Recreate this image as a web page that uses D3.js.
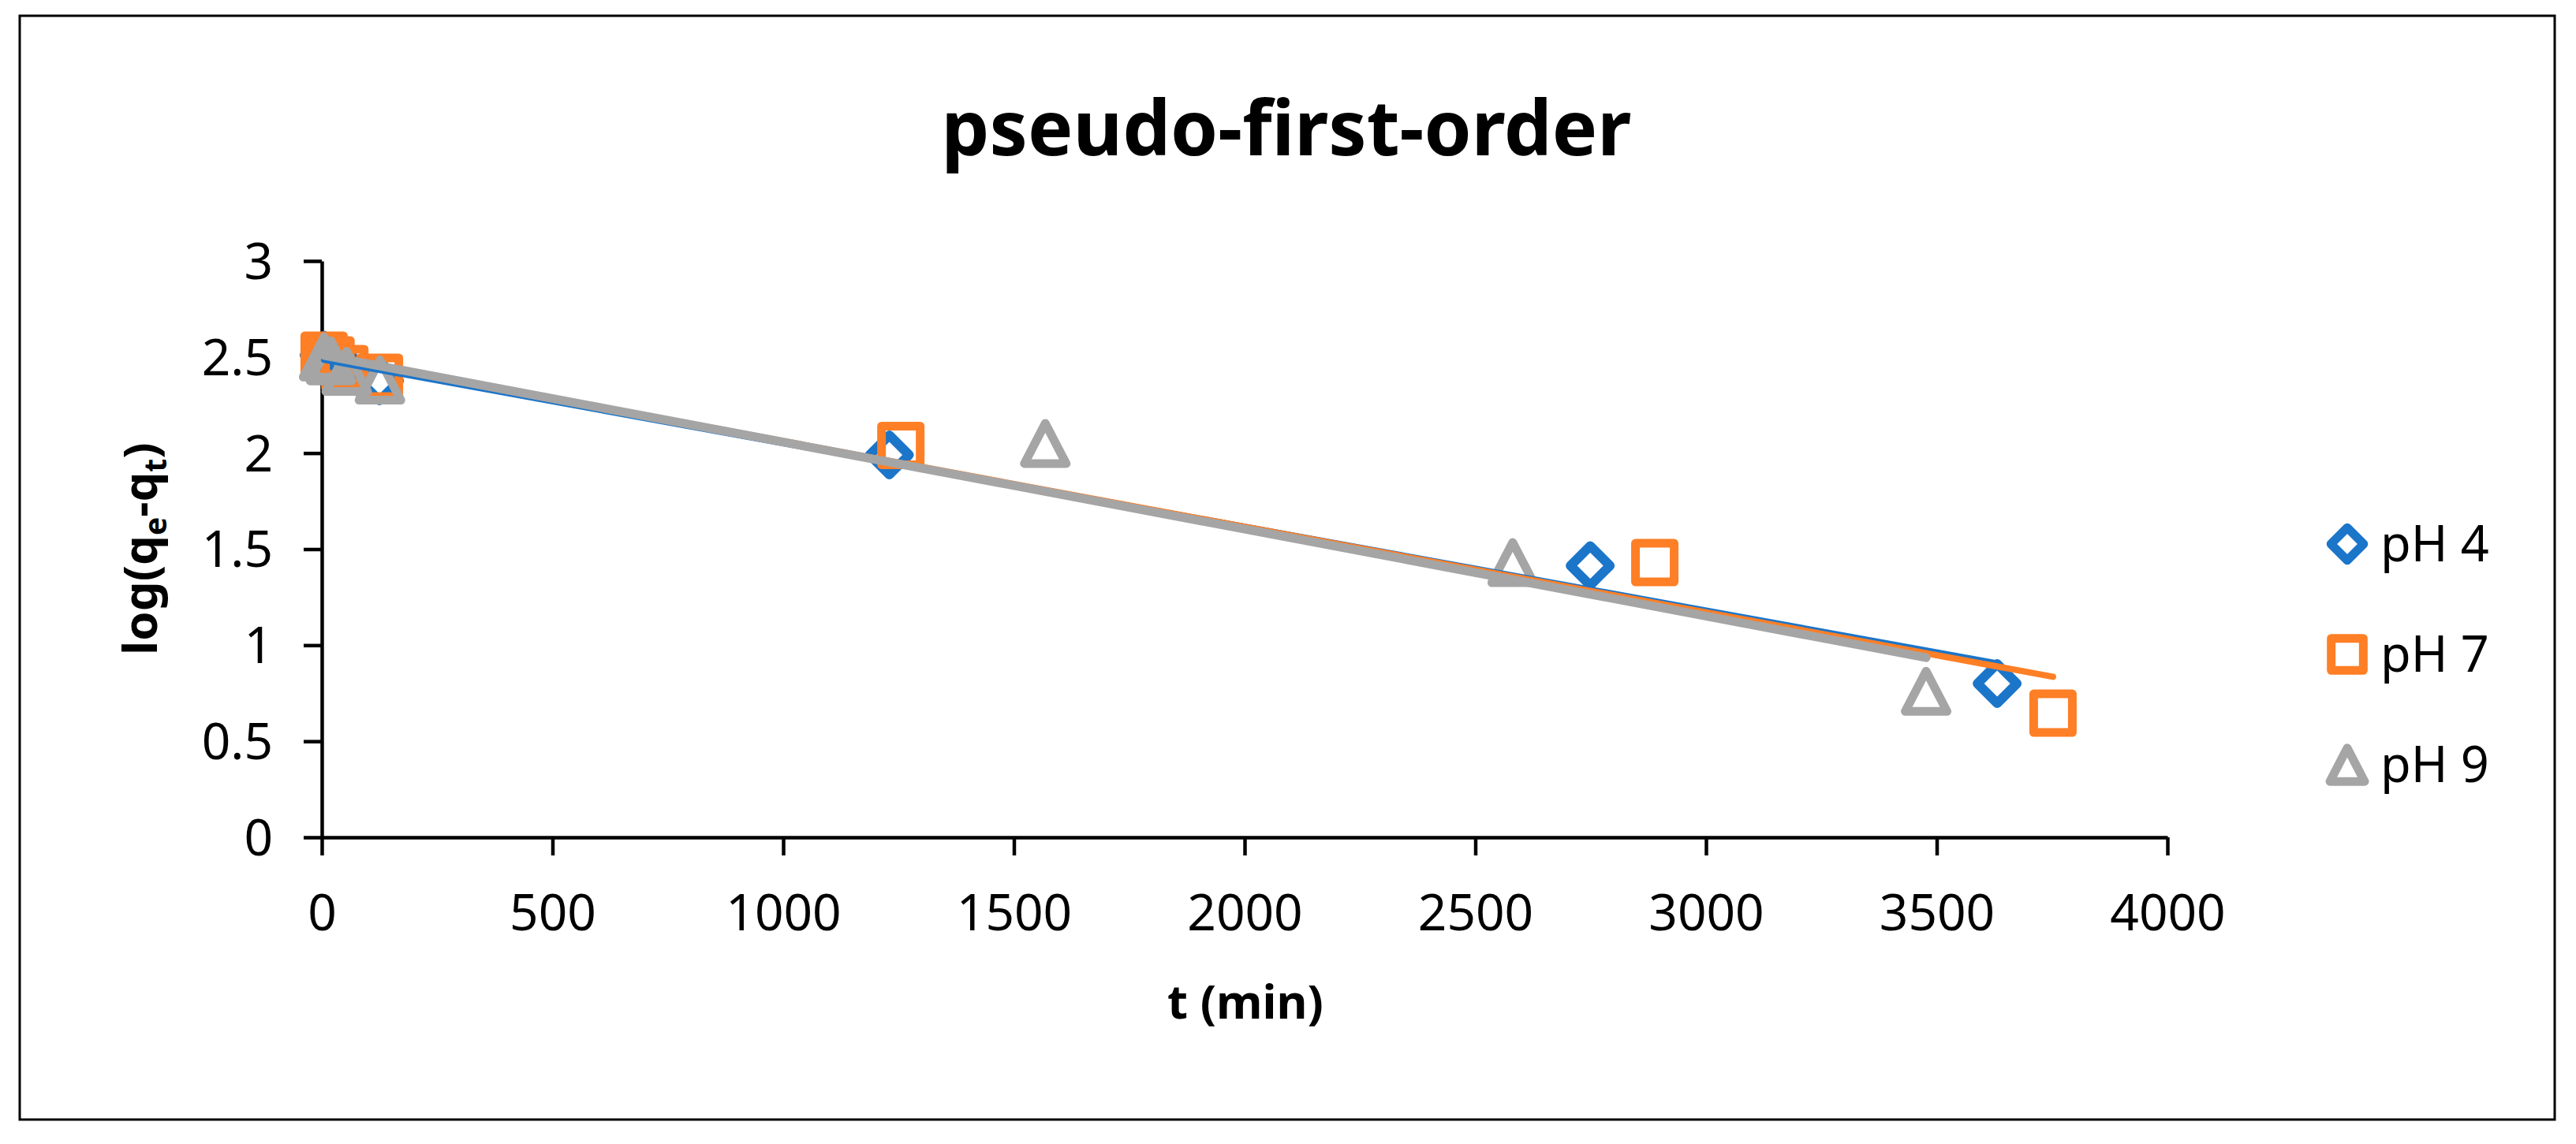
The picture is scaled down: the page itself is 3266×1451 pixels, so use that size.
<!DOCTYPE html>
<html>
<head>
<meta charset="utf-8">
<script src="https://cdn.jsdelivr.net/npm/d3@7"></script>
<style>
  html, body { margin: 0; padding: 0; background: #fff; }
  svg { display: block; }
  text { font-family: "Noto Sans", "Open Sans", sans-serif; }
</style>
</head>
<body>
<script>
// ---------- data ----------
const seriesNames = ["pH 4", "pH 7", "pH 9"];
const tPH4 = [5, 20, 50, 125, 1230, 2749, 3631];
const yPH4 = [2.51, 2.48, 2.44, 2.376, 1.99, 1.414, 0.80];
const tPH7 = [5, 20, 50, 125, 1255, 2889, 3752];
const yPH7 = [2.51, 2.485, 2.44, 2.395, 2.04, 1.43, 0.646];
const tPH9 = [5, 20, 54, 126, 1568, 2581, 3477];
const yPH9 = [2.50, 2.48, 2.425, 2.38, 2.05, 1.43, 0.76];
const xTicks = [0, 500, 1000, 1500, 2000, 2500, 3000, 3500, 4000];
const yTicks = [0, 0.5, 1, 1.5, 2, 2.5, 3];
const titleText = "pseudo-first-order";
const xTitle = "t (min)";

// ---------- styles ----------
const colors = ["#1B75C9", "#FE7F26", "#A5A5A5"];
const shapes = ["diamond", "square", "triangle"];
const trendWidths = [8, 8, 11];

const W = 3266, H = 1451;
const svg = d3.select("body").append("svg").attr("width", W).attr("height", H);
svg.append("rect").attr("width", W).attr("height", H).attr("fill", "#fff");
svg.append("rect").attr("x", 25).attr("y", 20).attr("width", 3214).attr("height", 1400)
  .attr("fill", "none").attr("stroke", "#000").attr("stroke-width", 3);

const x = d3.scaleLinear().domain([0, 4000]).range([408, 2748]);
const y = d3.scaleLinear().domain([0, 3]).range([1062, 331]);

const data = [
  tPH4.map((t, i) => ({ t, v: yPH4[i] })),
  tPH7.map((t, i) => ({ t, v: yPH7[i] })),
  tPH9.map((t, i) => ({ t, v: yPH9[i] }))
];

// ---------- axes ----------
const xAxis = d3.axisBottom(x).tickValues(xTicks).tickFormat(d3.format("d"))
  .tickSizeInner(23).tickSizeOuter(0).tickPadding(50);
const yAxis = d3.axisLeft(y).tickValues(yTicks).tickFormat(d => String(d))
  .tickSizeInner(23).tickSizeOuter(0).tickPadding(39);

const gx = svg.append("g").attr("transform", `translate(0,${y(0)})`).call(xAxis);
const gy = svg.append("g").attr("transform", `translate(${x(0)},0)`).call(yAxis);
[gx, gy].forEach(g => {
  g.select(".domain").attr("stroke", "#000").attr("stroke-width", 4.5);
  g.selectAll(".tick line").attr("stroke", "#000").attr("stroke-width", 4.5);
  g.selectAll(".tick text").attr("fill", "#000").attr("font-size", 64)
    .attr("font-family", "Noto Sans, Open Sans, sans-serif");
});
gy.selectAll(".tick text").attr("dy", "0.35em");

// ---------- marker shapes ----------
function markerPath(shape, s) {
  if (shape === "diamond") {
    const r = 25 * s;
    return `M0,${-r}L${r},0L0,${r}L${-r},0Z`;
  }
  if (shape === "square") {
    const h = 24.5 * s;
    return `M${-h},${-h}L${h},${-h}L${h},${h}L${-h},${h}Z`;
  }
  const w = 26.5 * s, hh = 25.5 * s;
  return `M0,${-hh}L${w},${hh}L${-w},${hh}Z`;
}
const markerStroke = [12, 11, 11];

// ---------- markers ----------
data.forEach((pts, si) => {
  svg.append("g").selectAll("path").data(pts).join("path")
    .attr("d", markerPath(shapes[si], 1))
    .attr("transform", d => `translate(${x(d.t)},${y(d.v)})`)
    .attr("fill", "none")
    .attr("stroke", colors[si])
    .attr("stroke-width", markerStroke[si])
    .attr("stroke-linejoin", "round");
});

// ---------- linear trendlines (least squares) ----------
function linreg(pts) {
  const mt = d3.mean(pts, d => d.t), mv = d3.mean(pts, d => d.v);
  const sxy = d3.sum(pts, d => (d.t - mt) * (d.v - mv));
  const sxx = d3.sum(pts, d => (d.t - mt) ** 2);
  const b = sxy / sxx;
  return { b, a: mv - b * mt };
}
const lineGen = d3.line().x(d => x(d[0])).y(d => y(d[1]));
data.forEach((pts, si) => {
  const { a, b } = linreg(pts);
  const [t0, t1] = d3.extent(pts, d => d.t);
  svg.append("path")
    .attr("d", lineGen([[t0, a + b * t0], [t1, a + b * t1]]))
    .attr("fill", "none")
    .attr("stroke", colors[si])
    .attr("stroke-width", trendWidths[si])
    .attr("stroke-linecap", "round");
});

// ---------- titles ----------
const title = svg.append("text")
  .attr("x", 1631).attr("y", 197)
  .attr("text-anchor", "middle")
  .attr("font-weight", "bold")
  .attr("font-size", 84)
  .attr("fill", "#000")
  .text(titleText);
const tl = title.node().getComputedTextLength();
title.attr("font-size", 84 * 875 / tl);

svg.append("text")
  .attr("x", 1579).attr("y", 1292)
  .attr("text-anchor", "middle")
  .attr("font-weight", "bold")
  .attr("font-size", 60)
  .attr("fill", "#000")
  .text(xTitle);

const yt = svg.append("text")
  .attr("transform", "translate(199,696) rotate(-90)")
  .attr("text-anchor", "middle")
  .attr("font-weight", "bold")
  .attr("font-size", 60)
  .attr("fill", "#000");
yt.append("tspan").text("log(q");
yt.append("tspan").attr("font-size", 39).attr("dy", 12).text("e");
yt.append("tspan").attr("dy", -12).text("-q");
yt.append("tspan").attr("font-size", 39).attr("dy", 12).text("t");
yt.append("tspan").attr("dy", -12).text(")");

// ---------- legend ----------
const legendY = [690, 830, 970];
const lg = svg.append("g");
seriesNames.forEach((name, i) => {
  lg.append("path")
    .attr("d", markerPath(shapes[i], 0.83))
    .attr("transform", `translate(2976,${legendY[i]})`)
    .attr("fill", "none")
    .attr("stroke", colors[i])
    .attr("stroke-width", 11)
    .attr("stroke-linejoin", "round");
  lg.append("text")
    .attr("x", 3018).attr("y", legendY[i]).attr("dy", "0.35em")
    .attr("font-size", 63).attr("fill", "#000")
    .text(name);
});
</script>
</body>
</html>
